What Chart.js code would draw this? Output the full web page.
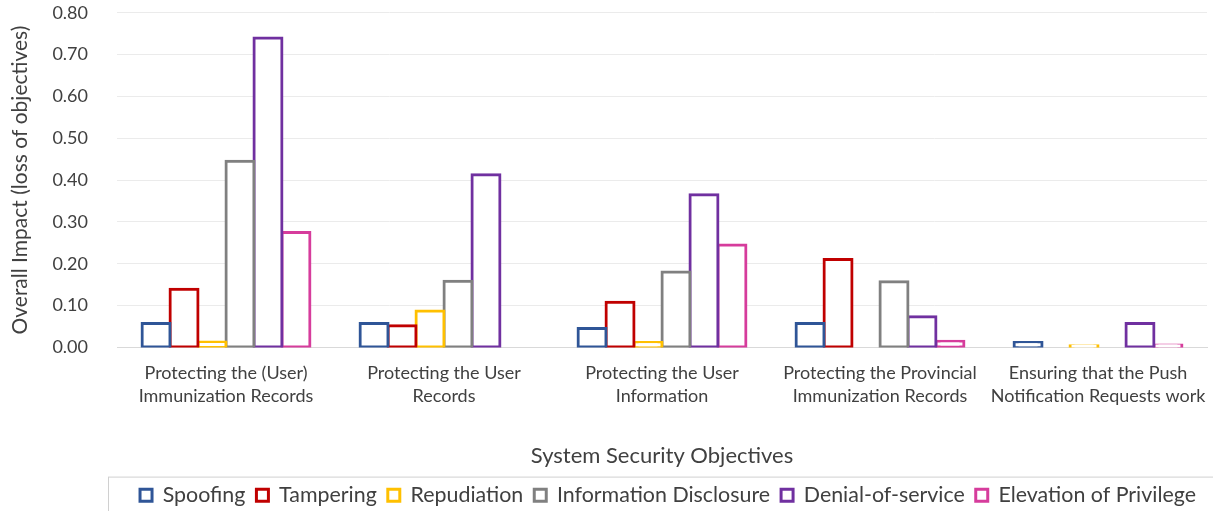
<!DOCTYPE html>
<html>
<head>
<meta charset="utf-8">
<script src="https://cdn.jsdelivr.net/npm/chart.js@4"></script>
<style>
  html, body { margin: 0; padding: 0; background: #fff; }
  #wrap { width: 1213px; height: 511px; }
</style>
</head>
<body>
<div id="wrap"><canvas id="impactChart"></canvas></div>
<script>
// categories (two-line labels)
const objectives = [
    ['Protecting the (User)', 'Immunization Records'],
    ['Protecting the User', 'Records'],
    ['Protecting the User', 'Information'],
    ['Protecting the Provincial', 'Immunization Records'],
    ['Ensuring that the Push', 'Notification Requests work']
];

// STRIDE series
const spoofing        = [0.057, 0.057, 0.045, 0.057, 0.012];
const tampering       = [0.139, 0.052, 0.108, 0.210, 0];
const repudiation     = [0.013, 0.087, 0.012, 0, 0.004];
const infoDisclosure  = [0.445, 0.158, 0.180, 0.157, 0];
const denialOfService = [0.740, 0.413, 0.365, 0.073, 0.057];
const elevation       = [0.275, 0, 0.245, 0.015, 0.006];

const yTicks = [0, 0.1, 0.2, 0.3, 0.4, 0.5, 0.6, 0.7, 0.8];

const font = 'Lato, "Open Sans", sans-serif';

function series(label, data, color) {
    return {
        label: label,
        data: data,
        backgroundColor: '#ffffff',
        borderColor: color,
        borderWidth: 3,
        borderSkipped: false,
        inflateAmount: 1.5, // neighbours share their edge, like the original
        categoryPercentage: 0.77,
        barPercentage: 1.0
    };
}

// draws the thin frame around the legend
const legendFrame = {
    id: 'legendFrame',
    afterDraw(chart) {
        const lg = chart.legend;
        if (!lg) return;
        const ctx = chart.ctx;
        ctx.save();
        ctx.strokeStyle = '#d0d0d0';
        ctx.lineWidth = 1;
        ctx.strokeRect(108.5, lg.top + 3.5, 1110, lg.height + 10);
        ctx.restore();
    }
};

new Chart(document.getElementById('impactChart').getContext('2d'), {
    type: 'bar',
    data: {
        labels: objectives,
        datasets: [
            series('Spoofing', spoofing, '#2f5597'),
            series('Tampering', tampering, '#c00000'),
            series('Repudiation', repudiation, '#ffc000'),
            series('Information Disclosure', infoDisclosure, '#808080'),
            series('Denial-of-service', denialOfService, '#7030a0'),
            series('Elevation of Privilege', elevation, '#d63c9c')
        ]
    },
    options: {
        responsive: true,
        maintainAspectRatio: false,
        animation: false,
        layout: { padding: { left: 8, right: 6, top: 0, bottom: -5 } },
        plugins: {
            legend: {
                position: 'bottom',
                align: 'end',
                labels: {
                    boxWidth: 12,
                    boxHeight: 12,
                    padding: 11,
                    color: '#404040',
                    font: { family: font, size: 21.4 }
                }
            },
            tooltip: { enabled: false }
        },
        scales: {
            y: {
                min: 0,
                max: 0.8,
                afterBuildTicks: axis => { axis.ticks = yTicks.map(v => ({ value: v })); },
                afterFit: axis => { axis.width = 109; },
                ticks: {
                    color: '#404040',
                    font: { family: font, size: 18 },
                    padding: 2,
                    callback: v => v.toFixed(2)
                },
                // invisible tick marks give the gap between labels and plot
                grid: { color: '#ebebeb', drawTicks: true, tickLength: 27, tickColor: 'rgba(0,0,0,0)' },
                border: { display: false },
                title: {
                    display: true,
                    text: 'Overall Impact (loss of objectives)',
                    color: '#404040',
                    font: { family: font, size: 21 },
                    padding: { top: 0, bottom: 4 }
                }
            },
            x: {
                ticks: {
                    color: '#404040',
                    font: { family: font, size: 18, lineHeight: 1.3 },
                    maxRotation: 0,
                    autoSkip: false,
                    padding: 6
                },
                grid: { display: false },
                border: { color: '#d9d9d9' },
                title: {
                    display: true,
                    text: 'System Security Objectives',
                    color: '#404040',
                    font: { family: font, size: 22 },
                    padding: { top: 29, bottom: 4 }
                }
            }
        }
    },
    plugins: [legendFrame]
});
</script>
</body>
</html>
